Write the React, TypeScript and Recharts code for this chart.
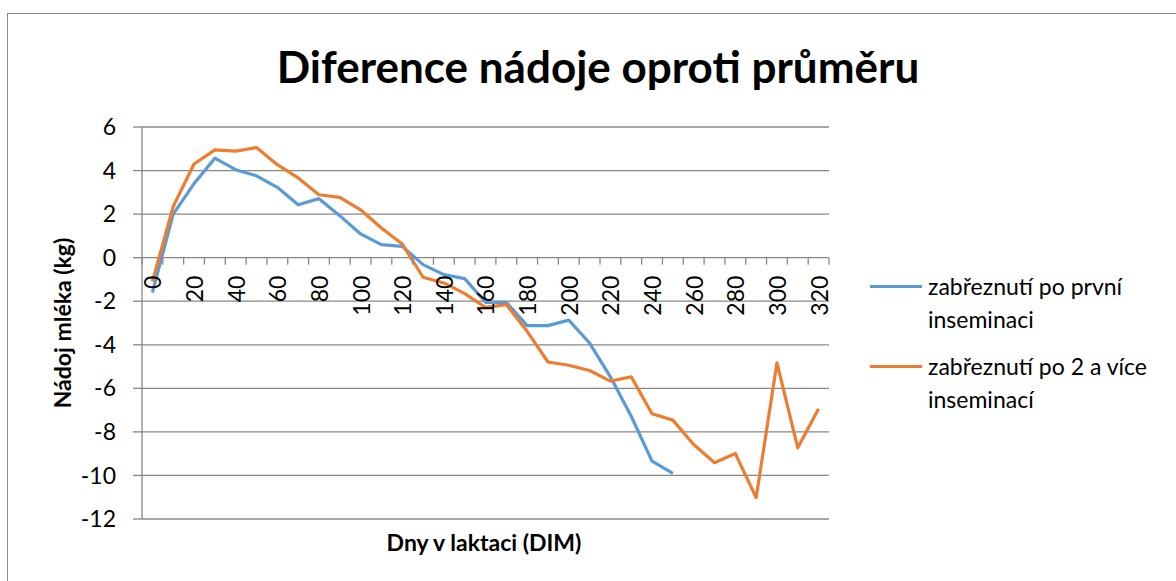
import { LineChart, Line, XAxis, YAxis, CartesianGrid } from 'recharts'

// Dny v laktaci (kategorie osy X)
const DAYS = [0, 10, 20, 30, 40, 50, 60, 70, 80, 90, 100, 110, 120, 130, 140, 150, 160,
  170, 180, 190, 200, 210, 220, 230, 240, 250, 260, 270, 280, 290, 300, 310, 320]

// zabřeznutí po první inseminaci (končí na 250 DIM)
const FIRST_INSEM = [-1.6, 2.0, 3.4, 4.57, 4.04, 3.76, 3.23, 2.43, 2.71, 1.93, 1.09, 0.6, 0.52,
  -0.32, -0.78, -0.96, -2.05, -2.05, -3.12, -3.12, -2.87, -3.92, -5.47, -7.28, -9.34, -9.91]

// zabřeznutí po 2 a více inseminacích
const MORE_INSEM = [-1.09, 2.35, 4.3, 4.95, 4.89, 5.06, 4.27, 3.66, 2.89, 2.77, 2.2, 1.36, 0.63,
  -0.9, -1.16, -1.65, -2.28, -2.16, -3.38, -4.79, -4.94, -5.18, -5.67, -5.47, -7.17, -7.46,
  -8.58, -9.42, -8.99, -11.02, -4.83, -8.73, -6.94]

const Y_TICKS = [-12, -10, -8, -6, -4, -2, 0, 2, 4, 6]

const SERIES = [
  { key: 'first', name: 'zabřeznutí po první inseminaci', lines: ['zabřeznutí po první', 'inseminaci'], color: '#5b9bd5' },
  { key: 'more', name: 'zabřeznutí po 2 a více inseminací', lines: ['zabřeznutí po 2 a více', 'inseminací'], color: '#ed7d31' },
]

const rows = DAYS.map((d, i) => ({
  day: d,
  first: i < FIRST_INSEM.length ? FIRST_INSEM[i] : null,
  more: MORE_INSEM[i],
}))

const W = 1176
const H = 581
const X_AXIS_H = 20
const M = { top: 127, right: 347, bottom: 62 - X_AXIS_H, left: 82 }
const Y_AXIS_W = 60
const PLOT_L = M.left + Y_AXIS_W
const PLOT_W = W - PLOT_L - M.right
const PLOT_H = H - M.top - M.bottom - X_AXIS_H
const Y_MIN = -12
const Y_MAX = 6
const ZERO_Y = M.top + PLOT_H * (Y_MAX / (Y_MAX - Y_MIN))
const STEP = PLOT_W / DAYS.length
const FONT = 'Lato, "Open Sans", sans-serif'
const GRID = '#878787'
const TXT = 23

// popisky osy X sedí na nulové čáře, otočené o 90°, jen každý druhý
function DayTick({ x, payload, index }: any) {
  const last = index === DAYS.length - 1
  const ly = ZERO_Y + 18
  return (
    <g>
      <line x1={x - STEP / 2} x2={x - STEP / 2} y1={ZERO_Y} y2={ZERO_Y + 7} stroke={GRID} strokeWidth={1.3} />
      {last && <line x1={x + STEP / 2} x2={x + STEP / 2} y1={ZERO_Y} y2={ZERO_Y + 7} stroke={GRID} strokeWidth={1.3} />}
      {index % 2 === 0 && (
        <text
          x={x} y={ly}
          transform={`rotate(-90 ${x} ${ly})`}
          textAnchor="end" dominantBaseline="central"
          fontSize={TXT} fontFamily={FONT} fill="#000"
        >
          {payload.value}
        </text>
      )}
    </g>
  )
}

function SideLegend() {
  return (
    <div style={{
      position: 'absolute', left: 870, top: 270, width: 306,
      fontFamily: FONT, fontSize: TXT, lineHeight: '33px', color: '#000',
    }}>
      {SERIES.map((s, i) => (
        <div key={s.key} style={{ display: 'flex', alignItems: 'flex-start', marginTop: i ? 14 : 0 }}>
          <span style={{ flex: 'none', display: 'inline-block', width: 52, height: 3, background: s.color, marginTop: 15, marginRight: 6 }} />
          <span>{s.lines[0]}<br />{s.lines[1]}</span>
        </div>
      ))}
    </div>
  )
}

export default function App() {
  return (
    <div style={{ position: 'relative', width: W, height: H, overflow: 'hidden', background: '#fff' }}>
      <style>{'html,body{margin:0;padding:0;overflow:hidden;background:#fff}'}</style>
      <div style={{
        position: 'absolute', left: 7, top: 13, width: 1300, height: 700,
        borderLeft: '1.5px solid #8c8c8c', borderTop: '1.5px solid #8c8c8c',
      }} />
      <div style={{
        position: 'absolute', left: 0, width: 1196, top: 38, textAlign: 'center',
        fontFamily: FONT, fontWeight: 700, fontSize: 44, lineHeight: '56px', color: '#000',
      }}>
        Diference nádoje oproti průměru
      </div>
      <div style={{
        position: 'absolute', left: 62 - 150, top: 323 - 15, width: 300, height: 30,
        lineHeight: '30px', textAlign: 'center', transform: 'rotate(-90deg)',
        fontFamily: FONT, fontWeight: 700, fontSize: TXT, color: '#000',
      }}>
        Nádoj mléka (kg)
      </div>
      <div style={{
        position: 'absolute', left: 484 - 150, top: 542 - 15, width: 300, height: 30,
        lineHeight: '30px', textAlign: 'center',
        fontFamily: FONT, fontWeight: 700, fontSize: TXT, color: '#000',
      }}>
        Dny v laktaci (DIM)
      </div>
      <div style={{ position: 'absolute', left: 0, top: 0 }}>
        <LineChart width={W} height={H} data={rows} margin={M}>
          <CartesianGrid horizontal vertical={false} stroke={GRID} strokeWidth={1.3} />
          <XAxis
            dataKey="day" type="category" height={X_AXIS_H} interval={0}
            padding={{ left: STEP / 2, right: STEP / 2 }}
            axisLine={false} tickLine={false} tick={<DayTick />}
          />
          <YAxis
            type="number" domain={[Y_MIN, Y_MAX]} ticks={Y_TICKS} width={Y_AXIS_W}
            allowDataOverflow
            axisLine={{ stroke: GRID, strokeWidth: 1.3 }}
            tickLine={{ stroke: GRID, strokeWidth: 1.3 }} tickSize={9} tickMargin={17}
            tick={{ fontSize: TXT, fontFamily: FONT, fill: '#000' }}
          />
          {SERIES.map(s => (
            <Line
              key={s.key} dataKey={s.key} name={s.name} type="linear"
              stroke={s.color} strokeWidth={3.2} dot={false} activeDot={false}
              strokeLinejoin="round" isAnimationActive={false}
            />
          ))}
        </LineChart>
      </div>
      <SideLegend />
    </div>
  )
}
